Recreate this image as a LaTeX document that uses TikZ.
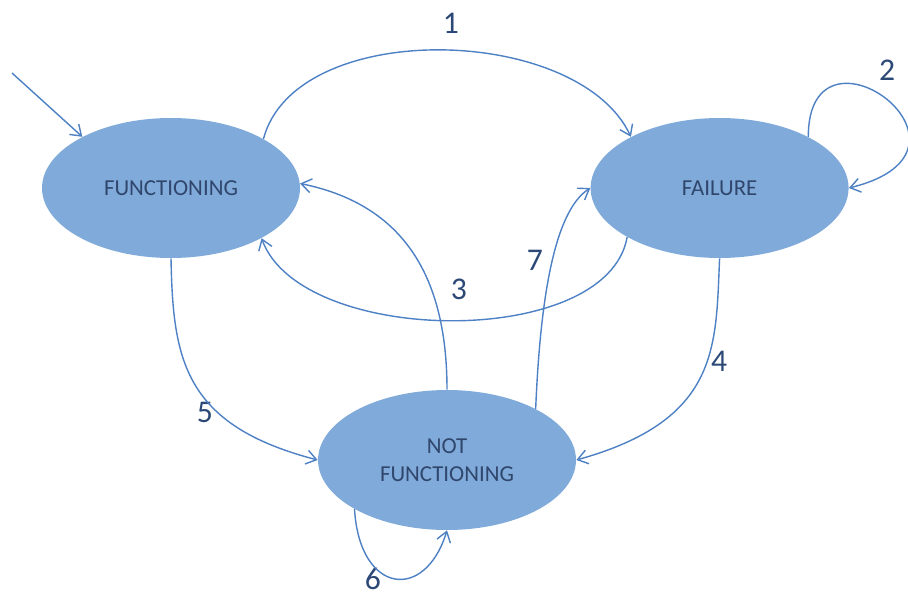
\documentclass[tikz,border=0pt]{standalone}
\usepackage{fontspec}
\setmainfont{Carlito}
\usetikzlibrary{positioning,shapes.geometric,arrows.meta}
\definecolor{statefill}{RGB}{127,170,217}
\definecolor{linkblue}{RGB}{78,128,196}
\definecolor{textblue}{RGB}{48,70,108}
\definecolor{numblue}{RGB}{44,72,118}
\tikzset{
	state/.style={ellipse, fill=statefill, minimum width=5.16cm, minimum height=2.8cm, inner sep=0pt, text=textblue, align=center, font=\fontsize{13}{16}\selectfont},
	link/.style={draw=linkblue, line width=0.8pt, -{Straight Barb[length=2mm,width=2.8mm]}},
	num/.style={text=numblue, font=\fontsize{18}{20}\selectfont}
}

\begin{document}
\begin{tikzpicture}[x=0.02cm, y=0.02cm]
	\useasboundingbox (0,0) rectangle (908,596);
	\node [state] (F) at (171,408) {FUNCTIONING};
	\node [state, right=5.8cm of F] (FA) {FAILURE};
	\node [state] (NF) at (447,136) {NOT\\FUNCTIONING};
	\coordinate (S) at (12,523);
	\node [num] (n1) at (451,573) {1};
	\node [num] (n2) at (887,526) {2};
	\node [num] (n3) at (459,307) {3};
	\node [num] (n4) at (719,235) {4};
	\node [num] (n5) at (205,184) {5};
	\node [num] (n6) at (373,17) {6};
	\node [num] (n7) at (535,336) {7};
	\draw [link] (S) to (F.150);
	\draw [link] (F.28) .. controls +(32,121) and +(-53,113) .. (FA.150);
	\draw [link] (FA.30) .. controls +(0,130) and +(155,38) .. (FA.0);
	\draw [link] (FA.208) .. controls +(-20,-113) and +(39,-108) .. (F.331);
	\draw [link] (FA.south) .. controls +(-4,-88) and +(144,40) .. (NF.east);
	\draw [link] (F.south) .. controls +(2,-100) and +(-135,35) .. (NF.west);
	\draw [link] (NF.208) .. controls +(5,-85) and +(-22,-72) .. (NF.south);
	\draw [link] (NF.30) .. controls +(5,120) and +(-34,-22) .. (FA.west);
	\draw [link] (NF.north) .. controls +(0,120) and +(98,-20) .. (F.2);
\end{tikzpicture}
\end{document}
